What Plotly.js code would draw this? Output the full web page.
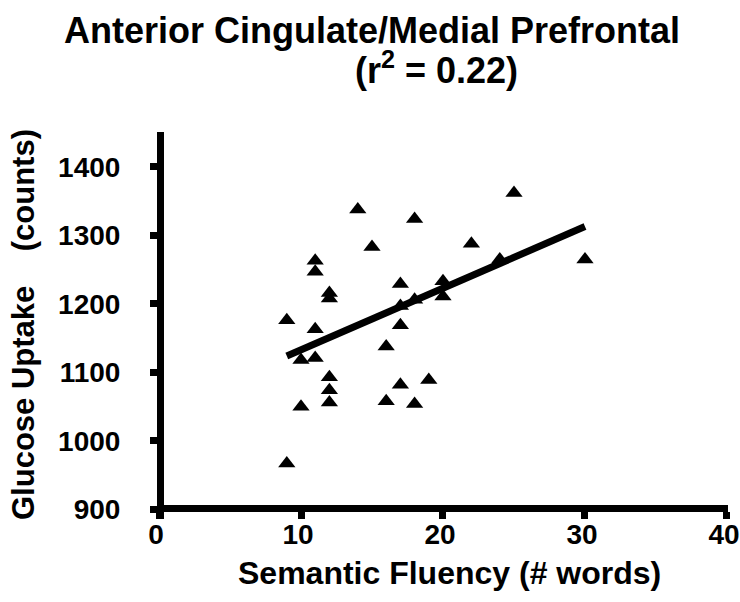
<!DOCTYPE html>
<html>
<head>
<meta charset="utf-8">
<script src="https://cdn.plot.ly/plotly-3.0.1.min.js"></script>
<style>
    html, body { margin: 0; padding: 0; background: white; }
    #chart { width: 740px; height: 602px; }
</style>
</head>
<body>
<div id="chart"></div>
<script>
// Semantic fluency (# words) per subject
const fluency = [9, 9, 10, 10, 11, 11, 11, 11, 12, 12, 12, 12, 12, 14, 15, 16, 16,
                 17, 17, 17, 17, 18, 18, 18, 19, 20, 20, 22, 24, 25, 30];
// Glucose uptake (counts)
const glucose = [1176, 967, 1118, 1050, 1263, 1247, 1163, 1121, 1216, 1208, 1093, 1074, 1056, 1338, 1283, 1138, 1058,
                 1229, 1197, 1169, 1082, 1324, 1206, 1054, 1089, 1233, 1211, 1288, 1265, 1362, 1265];

// Regression line ends
const fitX = [9, 30];
const fitY = [1124, 1313];

const xTicks = [0, 10, 20, 30, 40];
const yTicks = [900, 1000, 1100, 1200, 1300, 1400];

const W = 740, H = 602;
const FONT = 'Liberation Sans, Arial, Helvetica, sans-serif';

// px helpers (margins are zero, so paper == page pixels)
const px = v => v / W;
const py = v => 1 - v / H;

function axisStyle() {
    return {
        showline: true,
        linecolor: 'black',
        linewidth: 7,
        ticks: 'outside',
        ticklen: 7,
        tickwidth: 7,
        tickcolor: 'black',
        showgrid: false,
        zeroline: false,
        fixedrange: true,
        anchor: 'free',
        automargin: false,
        ticklabeloverflow: 'allow',
        tickfont: { family: FONT, size: 28, weight: 'bold', color: 'black' }
    };
}

const points = {
    x: fluency, y: glucose,
    type: 'scatter',
    mode: 'markers',
    marker: { symbol: 'triangle-up', size: 15, color: 'black' },
    hoverinfo: 'x+y'
};

const fit = {
    x: fitX, y: fitY,
    type: 'scatter',
    mode: 'lines',
    line: { color: 'black', width: 7 },
    hoverinfo: 'skip'
};

const layout = {
    width: W, height: H,
    margin: { l: 0, r: 0, t: 0, b: 0 },
    paper_bgcolor: 'white',
    plot_bgcolor: 'white',
    showlegend: false,
    title: {
        text: 'Anterior Cingulate/Medial Prefrontal',
        x: px(372), xanchor: 'center', xref: 'paper',
        y: py(30), yanchor: 'middle', yref: 'container',
        font: { family: FONT, size: 36, weight: 'bold', color: 'black' }
    },
    xaxis: Object.assign(axisStyle(), {
        domain: [px(159), px(728.4)],
        range: [0, 40.1],
        position: py(508),
        tickvals: xTicks,
        ticklabelstandoff: -9,
        ticklabelshift: -3
    }),
    yaxis: Object.assign(axisStyle(), {
        domain: [py(519), py(132)],
        range: [886, 1451],
        position: px(160),
        tickvals: yTicks,
        ticklabelstandoff: 24
    }),
    annotations: [
        {
            text: '(r<sup>2</sup> = 0.22)',
            xref: 'paper', yref: 'paper', x: px(436), y: py(68),
            xanchor: 'center', yanchor: 'middle', showarrow: false,
            font: { family: FONT, size: 36, weight: 'bold', color: 'black' }
        },
        {
            text: 'Semantic Fluency (# words)',
            xref: 'paper', yref: 'paper', x: px(449), y: py(573),
            xanchor: 'center', yanchor: 'middle', showarrow: false,
            font: { family: FONT, size: 32, weight: 'bold', color: 'black' }
        },
        {
            text: 'Glucose Uptake\u00a0\u00a0\u00a0\u00a0(counts)',
            textangle: -90,
            xref: 'paper', yref: 'paper', x: px(23), y: py(325),
            xanchor: 'center', yanchor: 'middle', showarrow: false,
            font: { family: FONT, size: 31, weight: 'bold', color: 'black' }
        }
    ]
};

Plotly.newPlot('chart', [fit, points], layout, { displayModeBar: false, staticPlot: true });
</script>
</body>
</html>
